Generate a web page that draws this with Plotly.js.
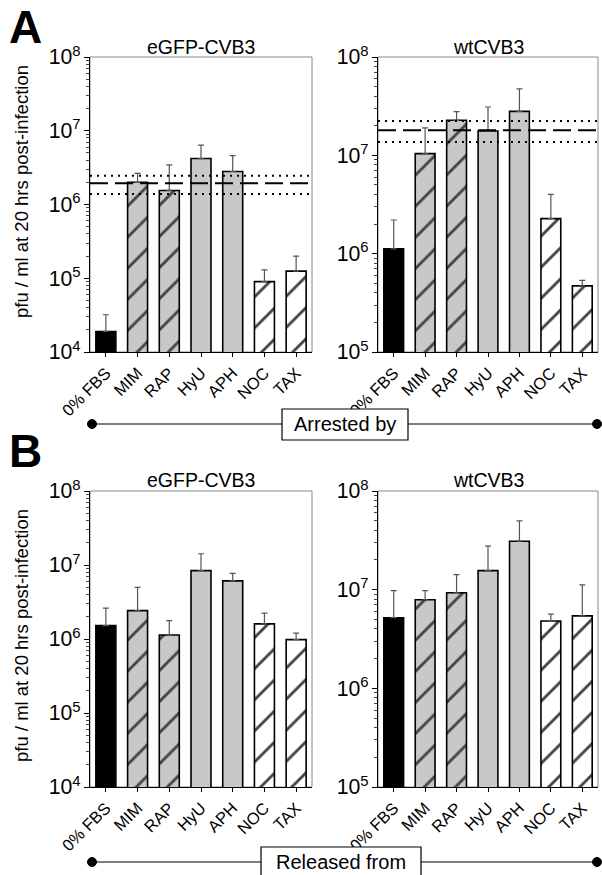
<!DOCTYPE html>
<html><head><meta charset="utf-8">
<script src="https://cdn.plot.ly/plotly-3.0.1.min.js"></script>
<style>html,body{margin:0;padding:0;background:#fff}#chart{width:602px;height:875px}</style>
</head><body><div id="chart"></div>
<script>
// ---- data ----
const categories = ['0% FBS','MIM','RAP','HyU','APH','NOC','TAX'];
const fillColors = ['#000000','#c8c8c8','#c8c8c8','#c8c8c8','#c8c8c8','#ffffff','#ffffff'];
const hatch      = ['', '/', '/', '', '', '/', '/'];

// Panel A: arrested by
const arrestedGFP     = [1.9e4, 2.0e6, 1.55e6, 4.2e6, 2.8e6, 9.0e4, 1.25e5];
const arrestedGFPHigh = [3.2e4, 2.65e6, 3.45e6, 6.4e6, 4.6e6, 1.3e5, 2.0e5];
const arrestedWT      = [1.12e6, 1.04e7, 2.27e7, 1.77e7, 2.8e7, 2.27e6, 4.7e5];
const arrestedWTHigh  = [2.2e6, 1.9e7, 2.78e7, 3.1e7, 4.75e7, 4.0e6, 5.35e5];
// reference (asynchronous) level: mean, upper, lower
const refGFP = [1.94e6, 2.45e6, 1.39e6];
const refWT  = [1.8e7, 2.23e7, 1.37e7];

// Panel B: released from
const releasedGFP     = [1.52e6, 2.42e6, 1.13e6, 8.4e6, 6.1e6, 1.6e6, 9.8e5];
const releasedGFPHigh = [2.62e6, 4.98e6, 1.77e6, 1.42e7, 7.7e6, 2.24e6, 1.2e6];
const releasedWT      = [5.2e6, 7.9e6, 9.3e6, 1.56e7, 3.1e7, 4.82e6, 5.42e6];
const releasedWTHigh  = [9.8e6, 9.8e6, 1.42e7, 2.76e7, 4.98e7, 5.64e6, 1.12e7];

const panelTitles = ['eGFP-CVB3','wtCVB3'];
const yTitle = 'pfu / ml at 20 hrs post-infection';

// ---- helpers ----
const W = 602, H = 875;
const px = x => x / W, py = y => 1 - y / H;
const idx = categories.map((_, i) => i);

function barTrace(vals, high, ax) {
  return {
    type: 'bar', x: idx, y: vals, xaxis: 'x' + ax, yaxis: 'y' + ax,
    width: 0.63,
    marker: {
      color: fillColors,
      line: {color: '#000', width: 1.6},
      pattern: {shape: hatch, fgcolor: categories.map(() => '#000'), fgopacity: 1,
                size: 22, solidity: 0.13, fillmode: 'overlay'}
    },
    error_y: {type: 'data', symmetric: false, array: high.map((h, i) => h - vals[i]),
              arrayminus: vals.map(() => 0), color: '#555', thickness: 1.2, width: 3},
    showlegend: false, hoverinfo: 'skip'
  };
}
function refTraces(ref, ax) {
  const xs = [-0.5, 6.5];
  return [
    {type:'scatter', mode:'lines', x: xs, y: [ref[0], ref[0]], xaxis:'x'+ax, yaxis:'y'+ax,
     line:{color:'#000', width:2, dash:'18px,7px'}, showlegend:false, hoverinfo:'skip'},
    {type:'scatter', mode:'lines', x: xs, y: [ref[1], ref[1]], xaxis:'x'+ax, yaxis:'y'+ax,
     line:{color:'#000', width:2, dash:'2px,5px'}, showlegend:false, hoverinfo:'skip'},
    {type:'scatter', mode:'lines', x: xs, y: [ref[2], ref[2]], xaxis:'x'+ax, yaxis:'y'+ax,
     line:{color:'#000', width:2, dash:'2px,5px'}, showlegend:false, hoverinfo:'skip'}
  ];
}

const traces = [
  barTrace(arrestedGFP, arrestedGFPHigh, ''),
  barTrace(arrestedWT, arrestedWTHigh, '2'),
  barTrace(releasedGFP, releasedGFPHigh, '3'),
  barTrace(releasedWT, releasedWTHigh, '4'),
  ...refTraces(refGFP, ''),
  ...refTraces(refWT, '2')
];

const font = 'Liberation Sans, Arial, sans-serif';
function xax(domain, anchor) {
  return {domain, anchor, type:'linear', range:[-0.5, 6.5], tickvals: idx, ticktext: categories,
          tickangle: -45, ticks:'outside', ticklen:4, tickcolor:'#000', showline:true, linecolor:'#000',
          linewidth:1, showgrid:false, zeroline:false, tickfont:{family:font, size:16.5, color:'#000'}, fixedrange:true};
}
function yax(domain, anchor, lo) {
  return {domain, anchor, type:'log', range:[lo, 8], dtick:1, exponentformat:'power',
          ticks:'outside', ticklen:5, tickcolor:'#000', showline:true, linecolor:'#000', linewidth:1,
          showgrid:false, zeroline:false, tickfont:{family:font, size:17, color:'#000'},
          minor:{ticks:'outside', ticklen:3, tickcolor:'#444', showgrid:false}, fixedrange:true};
}
const xL = [px(90), px(312)], xR = [px(378), px(598)];
const yA = [py(352), py(57)], yB = [py(787), py(491)];

const shapes = [];
['', '2', '3', '4'].forEach(a => {
  shapes.push({type:'rect', xref:'x'+a+' domain', yref:'y'+a+' domain', x0:0, x1:1, y0:0, y1:1,
               line:{color:'#888', width:1}, layer:'below'});
});
function bracket(yLine, bx0, bx1, by0, by1) {
  shapes.push({type:'line', xref:'paper', yref:'paper', x0:px(92), x1:px(597), y0:py(yLine), y1:py(yLine),
               line:{color:'#000', width:1.2}});
  [92, 597].forEach(cx => shapes.push({type:'circle', xref:'paper', yref:'paper',
    x0:px(cx-4.5), x1:px(cx+4.5), y0:py(yLine+4.5), y1:py(yLine-4.5), fillcolor:'#000', line:{color:'#000', width:1}}));
  shapes.push({type:'rect', xref:'paper', yref:'paper', x0:px(bx0), x1:px(bx1), y0:py(by1), y1:py(by0),
               fillcolor:'#fff', line:{color:'#000', width:1.2}});
}
bracket(424, 282, 408, 409, 440);
bracket(862, 261, 421, 847, 880);

const ann = (text, x, y, size, extra) => Object.assign({text, xref:'paper', yref:'paper', x:px(x), y:py(y),
  showarrow:false, xanchor:'center', yanchor:'middle', font:{family:font, size, color:'#000'}}, extra || {});
const annotations = [
  ann(panelTitles[0], 201, 47, 19.5), ann(panelTitles[1], 488, 47, 19.5),
  ann(panelTitles[0], 201, 480, 19.5), ann(panelTitles[1], 488, 480, 19.5),
  ann(yTitle, 21, 192, 18.5, {textangle:-90}),
  ann(yTitle, 21, 636, 18.5, {textangle:-90}),
  ann('<b>A</b>', 25, 27, 46),
  ann('<b>B</b>', 25, 451, 46),
  ann('Arrested by', 345, 424.5, 20),
  ann('Released from', 341, 862, 20)
];

const layout = {
  width: W, height: H, margin:{l:0, r:0, t:0, b:0}, paper_bgcolor:'#fff', plot_bgcolor:'#fff',
  showlegend:false, bargap:0.3,
  xaxis: xax(xL, 'y'), yaxis: yax(yA, 'x', 4),
  xaxis2: xax(xR, 'y2'), yaxis2: yax(yA, 'x2', 5),
  xaxis3: xax(xL, 'y3'), yaxis3: yax(yB, 'x3', 4),
  xaxis4: xax(xR, 'y4'), yaxis4: yax(yB, 'x4', 5),
  shapes, annotations
};
Plotly.newPlot('chart', traces, layout, {staticPlot:true, displayModeBar:false});
</script></body></html>
